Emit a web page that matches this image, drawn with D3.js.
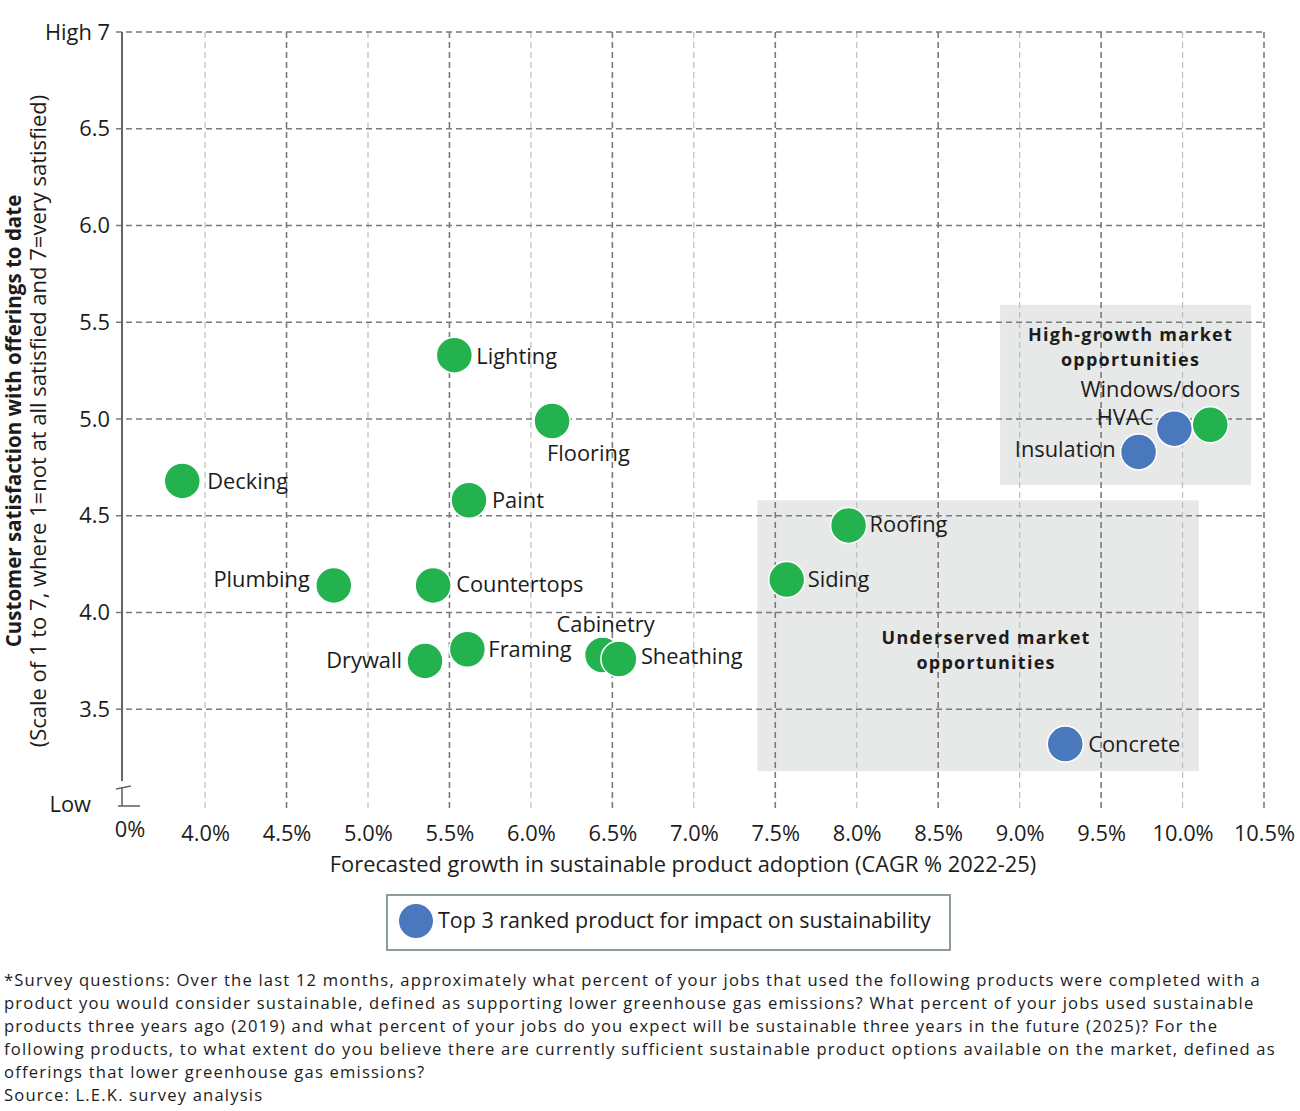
<!DOCTYPE html>
<html>
<head>
<meta charset="utf-8">
<script src="https://cdn.jsdelivr.net/npm/d3@7"></script>
<style>
  html, body { margin: 0; padding: 0; background: #fff; }
  svg { display: block; font-family: "Open Sans", "Noto Sans", sans-serif; }
</style>
</head>
<body>
<svg id="chart" width="1300" height="1111"></svg>
<script>
// ---------- data ----------
const products = ["Lighting","Flooring","Decking","Paint","Plumbing","Countertops","Drywall","Framing","Cabinetry","Sheathing","Roofing","Siding","Concrete","Insulation","HVAC","Windows/doors"];
const growth   = [5.53, 6.13, 3.86, 5.62, 4.79, 5.40, 5.35, 5.61, 6.44, 6.54, 7.95, 7.57, 9.28, 9.73, 9.95, 10.17];
const satisfaction = [5.33, 4.99, 4.68, 4.58, 4.14, 4.14, 3.75, 3.81, 3.78, 3.76, 4.45, 4.17, 3.32, 4.83, 4.95, 4.97];
const topRanked = ["Concrete","Insulation","HVAC"];
const xTicks = [4.0,4.5,5.0,5.5,6.0,6.5,7.0,7.5,8.0,8.5,9.0,9.5,10.0,10.5];
const yTicks = [3.5,4.0,4.5,5.0,5.5,6.0,6.5,7.0];
const zoneNames = ["High-growth market|opportunities","Underserved market|opportunities"];
const zoneX0 = [8.88, 7.39];
const zoneX1 = [10.42, 10.10];
const zoneY0 = [4.66, 3.18];
const zoneY1 = [5.59, 4.58];
const legendText = "Top 3 ranked product for impact on sustainability";
const xTitle = "Forecasted growth in sustainable product adoption (CAGR % 2022-25)";
const yTitle1 = "Customer satisfaction with offerings to date";
const yTitle2 = "(Scale of 1 to 7, where 1=not at all satisfied and 7=very satisfied)";
const footnote = [
  "*Survey questions: Over the last 12 months, approximately what percent of your jobs that used the following products were completed with a",
  "product you would consider sustainable, defined as supporting lower greenhouse gas emissions? What percent of your jobs used sustainable",
  "products three years ago (2019) and what percent of your jobs do you expect will be sustainable three years in the future (2025)? For the",
  "following products, to what extent do you believe there are currently sufficient sustainable product options available on the market, defined as",
  "offerings that lower greenhouse gas emissions?",
  "Source: L.E.K. survey analysis"
];

// ---------- layout (label placement) ----------
const labelLayout = {
  "Lighting":      {a:"start",  dx:22,  dy:3},
  "Flooring":      {a:"start",  dx:-5,  dy:34},
  "Decking":       {a:"start",  dx:25,  dy:2},
  "Paint":         {a:"start",  dx:23,  dy:2},
  "Plumbing":      {a:"end",    dx:-24, dy:-4},
  "Countertops":   {a:"start",  dx:23,  dy:1},
  "Drywall":       {a:"end",    dx:-23, dy:1},
  "Framing":       {a:"start",  dx:21,  dy:2},
  "Cabinetry":     {a:"middle", dx:3,   dy:-29},
  "Sheathing":     {a:"start",  dx:22,  dy:-1},
  "Roofing":       {a:"start",  dx:21,  dy:1},
  "Siding":        {a:"start",  dx:21,  dy:2},
  "Concrete":      {a:"start",  dx:23,  dy:2},
  "Insulation":    {a:"end",    dx:-23, dy:-1},
  "HVAC":          {a:"end",    dx:-21, dy:-10},
  "Windows/doors": {a:"end",    dx:30,  dy:-34}
};

const GREEN = "#24b24f", BLUE = "#4a78bc", TEXT = "#1c1c1c";
const svg = d3.select("#chart");

// font-size fitting: size so that sample text spans target width
function measure(sample, size, weight) {
  const t = svg.append("text").attr("font-size", size).attr("font-weight", weight || "normal").text(sample);
  const w = t.node().getComputedTextLength();
  t.remove();
  return w;
}
function fitSize(sample, target, weight) {
  return 100 * target / measure(sample, 100, weight);
}
// letter spacing so that sample at given size spans target width
function fitSpacing(sample, size, target, weight) {
  return (target - measure(sample, size, weight)) / sample.length;
}
const FS = fitSize(xTitle, 707);
const FS_LEG = fitSize(legendText, 493);
const FS_BOLD = 18;
const LS_BOLD = fitSpacing("High-growth market", FS_BOLD, 205, "bold");
const FS_YT1 = fitSize(yTitle1, 453, "bold");
const FS_YT2 = fitSize(yTitle2, 653);
const FS_FOOT = 16.6;
const LS_FOOT = fitSpacing(footnote[0], FS_FOOT, 1257);

const x = d3.scaleLinear().domain([3.49, 10.5]).range([122, 1264]);
const y = d3.scaleLinear().domain([3.0, 7.0]).range([806, 32]);

// zones
zoneNames.forEach((n, i) => {
  svg.append("rect")
    .attr("x", x(zoneX0[i])).attr("y", y(zoneY1[i]))
    .attr("width", x(zoneX1[i]) - x(zoneX0[i]))
    .attr("height", y(zoneY0[i]) - y(zoneY1[i]))
    .attr("fill", "#e7e8e8");
});

// vertical gridlines
svg.append("g").selectAll("line").data(xTicks).join("line")
  .attr("x1", d => x(d)).attr("x2", d => x(d))
  .attr("y1", y(7)).attr("y2", 812)
  .attr("stroke", d => (Math.round(d * 2) % 2 === 1) ? "#7a7a7a" : "#bdbdbd")
  .attr("stroke-width", d => (Math.round(d * 2) % 2 === 1) ? 1.6 : 1.2)
  .attr("stroke-dasharray", "6,4");

// horizontal gridlines
svg.append("g").selectAll("line").data(yTicks).join("line")
  .attr("x1", 116).attr("x2", x(10.5))
  .attr("y1", d => y(d)).attr("y2", d => y(d))
  .attr("stroke", "#7a7a7a").attr("stroke-width", 1.6)
  .attr("stroke-dasharray", "6,4");

// y axis line with break
svg.append("line").attr("x1", 122).attr("x2", 122).attr("y1", y(7)).attr("y2", 781)
  .attr("stroke", "#666").attr("stroke-width", 2);
svg.append("line").attr("x1", 116).attr("x2", 131).attr("y1", 789).attr("y2", 786)
  .attr("stroke", "#666").attr("stroke-width", 1.6);
svg.append("line").attr("x1", 122).attr("x2", 122).attr("y1", 787).attr("y2", 806)
  .attr("stroke", "#666").attr("stroke-width", 1.6);
svg.append("line").attr("x1", 118).attr("x2", 140).attr("y1", 806).attr("y2", 806)
  .attr("stroke", "#666").attr("stroke-width", 1.6);

// y tick labels via axis
const yAxis = d3.axisLeft(y).tickValues(yTicks)
  .tickFormat(d => d === 7 ? "High 7" : d3.format(".1f")(d))
  .tickSize(0).tickPadding(12);
const yg = svg.append("g").attr("transform", "translate(122,0)").call(yAxis);
yg.select(".domain").remove();
yg.attr("font-family", null);
yg.selectAll("text").attr("font-size", FS).attr("fill", TEXT);
svg.append("text").attr("x", 91).attr("y", y(3)).attr("text-anchor", "end")
  .attr("dominant-baseline", "middle").attr("font-size", FS).attr("fill", TEXT).text("Low");

// x tick labels via axis
const xAxis = d3.axisBottom(x).tickValues(xTicks)
  .tickFormat(d => d3.format(".1f")(d) + "%").tickSize(0).tickPadding(13);
const xg = svg.append("g").attr("transform", "translate(0,812)").call(xAxis);
xg.select(".domain").remove();
xg.attr("font-family", null);
xg.selectAll("text").attr("font-size", FS).attr("fill", TEXT);
svg.append("text").attr("x", x(3.49) + 8).attr("y", 831).attr("text-anchor", "middle")
  .attr("dominant-baseline", "middle").attr("font-size", FS).attr("fill", TEXT).text("0%");

// zone titles
zoneNames.forEach((n, i) => {
  const cx = (x(zoneX0[i]) + x(zoneX1[i])) / 2 + (i === 0 ? 5 : 8);
  const top = i === 0 ? y(zoneY1[i]) + 31 : y(zoneY1[i]) + 139;
  n.split("|").forEach((ln, j) => {
    svg.append("text").attr("x", cx).attr("y", top + j * 25)
      .attr("text-anchor", "middle").attr("dominant-baseline", "middle")
      .attr("font-size", FS_BOLD).attr("letter-spacing", LS_BOLD)
      .attr("font-weight", "bold").attr("fill", TEXT).text(ln);
  });
});

// points
const pts = products.map((p, i) => ({name: p, gx: growth[i], sy: satisfaction[i], top: topRanked.includes(p)}));
svg.append("g").selectAll("circle").data(pts).join("circle")
  .attr("cx", d => x(d.gx)).attr("cy", d => y(d.sy)).attr("r", 18)
  .attr("fill", d => d.top ? BLUE : GREEN)
  .attr("stroke", "#fff").attr("stroke-width", 1.5);

svg.append("g").selectAll("text").data(pts).join("text")
  .attr("x", d => x(d.gx) + labelLayout[d.name].dx)
  .attr("y", d => y(d.sy) + labelLayout[d.name].dy)
  .attr("text-anchor", d => labelLayout[d.name].a)
  .attr("dominant-baseline", "middle")
  .attr("font-size", FS).attr("fill", TEXT).text(d => d.name);

// axis titles
svg.append("text").attr("x", 683).attr("y", 866).attr("text-anchor", "middle")
  .attr("dominant-baseline", "middle").attr("font-size", FS).attr("fill", TEXT).text(xTitle);
svg.append("text").attr("transform", "translate(15,421) rotate(-90)").attr("text-anchor", "middle")
  .attr("dominant-baseline", "middle").attr("font-size", FS_YT1).attr("font-weight", "bold").attr("fill", TEXT).text(yTitle1);
svg.append("text").attr("transform", "translate(40,421) rotate(-90)").attr("text-anchor", "middle")
  .attr("dominant-baseline", "middle").attr("font-size", FS_YT2).attr("fill", TEXT).text(yTitle2);

// legend
svg.append("rect").attr("x", 387).attr("y", 895).attr("width", 563).attr("height", 55)
  .attr("fill", "#fff").attr("stroke", "#8c9c9a").attr("stroke-width", 2);
svg.append("circle").attr("cx", 416).attr("cy", 921).attr("r", 17).attr("fill", BLUE);
svg.append("text").attr("x", 438).attr("y", 922).attr("dominant-baseline", "middle")
  .attr("font-size", FS_LEG).attr("fill", TEXT).text(legendText);

// footnote
svg.append("g").selectAll("text").data(footnote).join("text")
  .attr("x", 4).attr("y", (d, i) => 982 + i * 23).attr("dominant-baseline", "middle")
  .attr("font-size", FS_FOOT).attr("letter-spacing", LS_FOOT).attr("fill", TEXT).text(d => d);
</script>
</body>
</html>
